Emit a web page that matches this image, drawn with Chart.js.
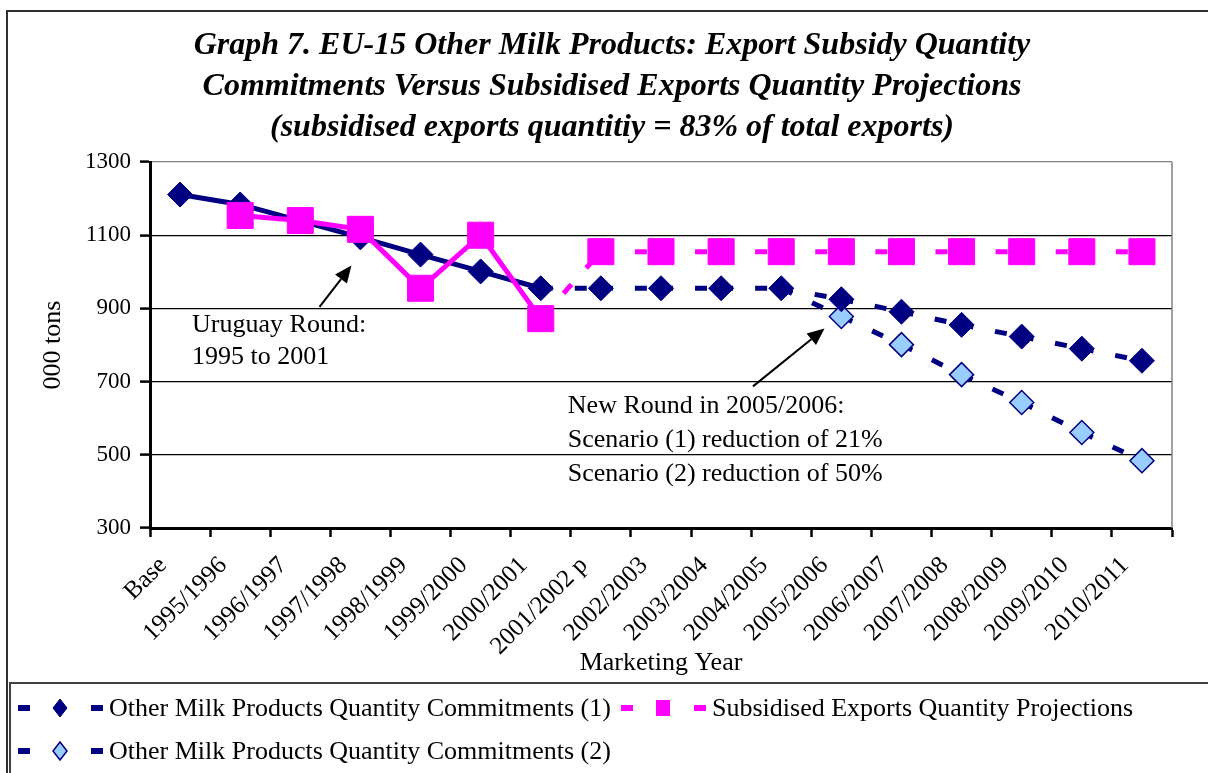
<!DOCTYPE html>
<html>
<head>
<meta charset="utf-8">
<script src="https://cdn.jsdelivr.net/npm/chart.js@4/dist/chart.umd.min.js"></script>
<style>
  html, body { margin:0; padding:0; background:#fff; }
  #wrap { position:relative; width:1208px; height:773px; overflow:hidden; background:#fff; }
  #c { position:absolute; left:0; top:0; }
  #legend { position:absolute; left:9px; top:682px; width:1210px; height:100px;
            border-top:2px solid #404040; border-left:2px solid #404040; box-sizing:border-box;
            font-family:"Liberation Serif","Times New Roman",serif; font-size:26px; color:#000; }
  .item { position:absolute; display:flex; align-items:center; white-space:nowrap; height:30px; }
  .item svg { display:block; }
  #frameLeft { position:absolute; left:6px; top:10px; width:2px; height:780px; background:#303030; }
</style>
</head>
<body>
<div id="wrap">
  <canvas id="c" width="1208" height="683"></canvas>
  <div id="frameLeft"></div>
  <div id="legend"></div>
</div>
<script>
// ---------- data ----------
const categories = ['Base','1995/1996','1996/1997','1997/1998','1998/1999','1999/2000','2000/2001',
  '2001/2002 p','2002/2003','2003/2004','2004/2005','2005/2006','2006/2007','2007/2008',
  '2008/2009','2009/2010','2010/2011'];
const commitments1 = [1211,1184,1139,1094,1047,1001,955,955,955,955,955,925,891,855,823,790,757];
const projections  = [null,1154,1140,1116,955,1100,872,1055,1055,1055,1055,1055,1055,1055,1055,1055,1055];
const commitments2 = [null,null,null,null,null,null,null,null,null,null,955,878,801,719,643,561,484];
const yTickValues  = [300,500,700,900,1100,1300];
const seriesNames  = ['Other Milk Products Quantity Commitments (1)',
                      'Subsidised Exports Quantity Projections',
                      'Other Milk Products Quantity Commitments (2)'];
const titleLines = ['Graph 7. EU-15 Other Milk Products: Export Subsidy Quantity',
                    'Commitments Versus Subsidised Exports Quantity Projections',
                    '(subsidised exports quantitiy = 83% of total exports)'];
const noteUruguay = ['Uruguay Round:', '1995 to 2001'];
const noteNewRound = ['New Round in 2005/2006:', 'Scenario (1) reduction of 21%', 'Scenario (2) reduction of 50%'];
const projStart = 6; // index after which lines are projections (dashed)

// ---------- styles ----------
const NAVY = '#000080', MAGENTA = '#FF00FF', LIGHT = '#99CCFF';
const FONT = '"Liberation Serif","Times New Roman",serif';
const DASH = [12, 22];

function dashedFrom(start) {
  return {
    borderDash: ctx => ctx.p0DataIndex >= start ? DASH : undefined,
    borderDashOffset: ctx => ctx.p0DataIndex >= start ? ctx.p0DataIndex * 1e-4 : undefined
  };
}

// annotation anchors in data space (category index, value)
const annotations = {
  uruguay: { text: noteUruguay, x: 0.2, y: [855, 768], arrowFrom: [2.32, 904], arrowTo: [2.85, 1017] },
  newRound: { text: noteNewRound, x: 6.45, y: [632, 539, 446], arrowFrom: [9.53, 687], arrowTo: [10.72, 845] }
};
const titleLayout = { centerX: 612, firstY: 45.5, lineGap: 41, font: 'italic bold 32px ' + FONT };

const decorPlugin = {
  id: 'decor',
  beforeDraw(chart) {
    const c = chart.ctx;
    c.save();
    c.fillStyle = '#fff';
    c.fillRect(0, 0, chart.width, chart.height);
    c.strokeStyle = '#303030';
    c.lineWidth = 2;
    c.beginPath();
    c.moveTo(6, 11); c.lineTo(chart.width, 11);
    c.stroke();
    // title
    c.font = titleLayout.font;
    c.fillStyle = '#000';
    c.textAlign = 'center';
    c.textBaseline = 'middle';
    titleLines.forEach((t, i) => c.fillText(t, titleLayout.centerX, titleLayout.firstY + i * titleLayout.lineGap));
    c.restore();
  },
  beforeDatasetsDraw(chart) {
    const c = chart.ctx, a = chart.chartArea;
    c.save();
    c.strokeStyle = '#808080';
    c.lineWidth = 1.5;
    c.beginPath();
    c.moveTo(a.right, a.top); c.lineTo(a.right, a.bottom);
    c.stroke();
    c.restore();
  },
  afterDatasetsDraw(chart) {
    const c = chart.ctx, xs = chart.scales.x, ys = chart.scales.y;
    const px = v => xs.left + (xs.right - xs.left) * (v + 0.5) / categories.length;
    c.save();
    c.font = '26px ' + FONT;
    c.fillStyle = '#000';
    c.textAlign = 'left';
    c.textBaseline = 'middle';
    for (const key of Object.keys(annotations)) {
      const an = annotations[key];
      an.text.forEach((t, i) => c.fillText(t, px(an.x), ys.getPixelForValue(an.y[i])));
      const x0 = px(an.arrowFrom[0]), y0 = ys.getPixelForValue(an.arrowFrom[1]);
      const x1 = px(an.arrowTo[0]), y1 = ys.getPixelForValue(an.arrowTo[1]);
      const ang = Math.atan2(y1 - y0, x1 - x0);
      const hl = 17, hw = 7.5;
      const bx = x1 - hl * Math.cos(ang), by = y1 - hl * Math.sin(ang);
      c.strokeStyle = '#000'; c.lineWidth = 2;
      c.beginPath(); c.moveTo(x0, y0); c.lineTo(bx, by); c.stroke();
      c.beginPath();
      c.moveTo(x1, y1);
      c.lineTo(bx + hw * Math.sin(ang), by - hw * Math.cos(ang));
      c.lineTo(bx - hw * Math.sin(ang), by + hw * Math.cos(ang));
      c.closePath(); c.fill();
    }
    c.restore();
  }
};

const chart = new Chart(document.getElementById('c'), {
  type: 'line',
  data: {
    labels: categories,
    datasets: [
      {
        label: seriesNames[0], data: commitments1, order: 1,
        borderColor: NAVY, backgroundColor: NAVY, borderWidth: 5,
        pointStyle: 'rectRot', pointRadius: 12.5, pointBorderWidth: 1,
        pointBackgroundColor: NAVY, pointBorderColor: NAVY,
        segment: dashedFrom(projStart), tension: 0
      },
      {
        label: seriesNames[1], data: projections, order: 0,
        borderColor: MAGENTA, backgroundColor: MAGENTA, borderWidth: 5,
        pointStyle: 'rect', pointRadius: 18.4, pointBorderWidth: 1,
        pointBackgroundColor: MAGENTA, pointBorderColor: MAGENTA,
        segment: dashedFrom(projStart), tension: 0, spanGaps: false
      },
      {
        label: seriesNames[2], data: commitments2, order: 2,
        borderColor: NAVY, backgroundColor: LIGHT, borderWidth: 5,
        pointStyle: 'rectRot',
        pointRadius: commitments2.map((v, i) => (i > 0 && commitments2[i - 1] === null) ? 0 : 12),
        pointBorderWidth: 1.5, pointBackgroundColor: LIGHT, pointBorderColor: NAVY,
        segment: dashedFrom(0), tension: 0
      }
    ]
  },
  options: {
    responsive: false, animation: false, devicePixelRatio: 1,
    layout: { padding: { left: 28, right: 36, top: 162, bottom: 4 } },
    plugins: {
      legend: { display: false },
      tooltip: { enabled: false },
      title: { display: false }
    },
    scales: {
      x: {
        type: 'category', offset: true,
        afterFit: s => { s.height = 151; },
        grid: { offset: true, display: true, color: 'transparent', drawOnChartArea: true,
                drawTicks: true, tickLength: 9, tickColor: '#000', tickWidth: 2.5 },
        border: { display: true, color: '#000', width: 3 },
        ticks: { color: '#000', font: { family: FONT, size: 25 }, minRotation: 45, maxRotation: 45,
                 autoSkip: false, padding: 14, labelOffset: -17 },
        title: { display: true, text: 'Marketing Year', color: '#000',
                 font: { family: FONT, size: 26 }, padding: { top: 0, bottom: 0 } }
      },
      y: {
        min: 300, max: 1300,
        afterFit: s => { s.width = 122; },
        afterBuildTicks: s => { s.ticks = yTickValues.map(v => ({ value: v })); },
        grid: {
          color: ctx => ctx.tick && ctx.tick.value === 1300 ? '#808080' : (ctx.tick && ctx.tick.value === 300 ? 'transparent' : '#000'),
          lineWidth: 1.2, drawTicks: true, tickLength: 10, tickColor: '#000', tickWidth: 2.5
        },
        border: { display: true, color: '#000', width: 3 },
        ticks: { color: '#000', font: { family: FONT, size: 23 }, padding: 9, callback: v => String(v) },
        title: { display: true, text: '000 tons', color: '#000',
                 font: { family: FONT, size: 26 }, padding: { top: 10, bottom: 4 } }
      }
    }
  },
  plugins: [decorPlugin]
});

// ---------- HTML legend ----------
function sample(kind) {
  let marker;
  if (kind === 'diamond') marker = `<polygon points="42,6 49,15 42,24 35,15" fill="${NAVY}" stroke="${NAVY}" stroke-width="1"/>`;
  else if (kind === 'light') marker = `<polygon points="42,6 49,15 42,24 35,15" fill="${LIGHT}" stroke="${NAVY}" stroke-width="1.5"/>`;
  else marker = `<rect x="35" y="7" width="14" height="16" fill="${MAGENTA}"/>`;
  const col = kind === 'square' ? MAGENTA : NAVY;
  return `<svg width="86" height="30" viewBox="0 0 86 30">
    <rect x="0" y="12" width="12" height="6" fill="${col}"/>
    ${marker}
    <rect x="73" y="12" width="12" height="6" fill="${col}"/></svg>`;
}
const legendItems = [
  { kind: 'diamond', name: seriesNames[0], left: 7, top: 9 },
  { kind: 'square',  name: seriesNames[1], left: 610, top: 9 },
  { kind: 'light',   name: seriesNames[2], left: 7, top: 52 }
];
const lg = document.getElementById('legend');
legendItems.forEach(it => {
  const d = document.createElement('div');
  d.className = 'item';
  d.style.left = it.left + 'px';
  d.style.top = it.top + 'px';
  d.innerHTML = sample(it.kind) + `<span style="margin-left:5px">${it.name}</span>`;
  lg.appendChild(d);
});
</script>
</body>
</html>
